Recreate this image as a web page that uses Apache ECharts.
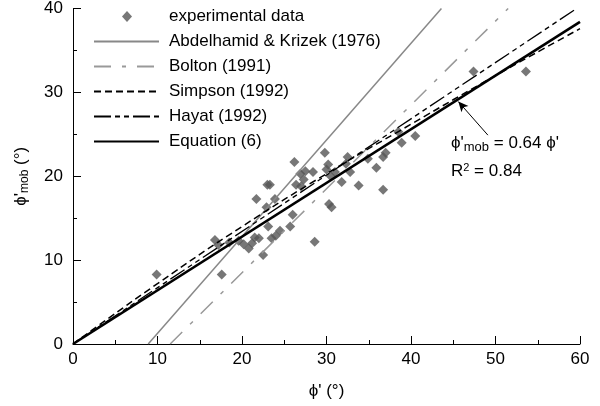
<!DOCTYPE html>
<html>
<head>
<meta charset="utf-8">
<script src="https://cdn.jsdelivr.net/npm/echarts@6/dist/echarts.min.js"></script>
<style>html,body{margin:0;padding:0;background:#fff}#c{width:600px;height:406px}</style>
</head>
<body>
<div id="c"></div>
<script>
// experimental data: friction angle phi' vs mobilised phi'_mob (degrees)
const phi = [9.9,16.8,17.2,17.6,18.5,19.6,20.2,20.8,21.2,21.5,21.7,22.0,22.5,22.9,23.0,23.3,23.1,23.5,23.9,24.0,24.5,25.7,26.0,26.2,26.4,26.9,27.0,27.3,27.5,28.4,28.6,29.8,30.0,30.2,30.3,30.6,30.5,31.0,31.8,32.3,32.5,32.8,33.8,34.9,35.9,36.7,37.0,36.7,38.5,38.9,40.5,47.4,53.6];
const phiMob = [8.3,12.4,11.8,8.3,12.1,12.3,11.9,11.4,12.0,12.7,17.3,12.6,10.6,16.3,19.0,19.0,14.0,12.6,17.3,12.9,13.5,14.0,15.4,21.7,19.0,20.3,18.8,19.6,20.6,20.5,12.2,22.8,20.8,21.4,16.7,16.3,20.0,20.5,19.3,21.5,22.3,20.5,18.9,22.1,21.0,22.3,22.8,18.4,25.3,24.0,24.8,32.5,32.5];
// published relations
const akX = [8.9, 43.6], akY = [0, 40];
const boltonX = [11.5, 51.5], boltonY = [0, 40];
const simpsonX = [0, 10, 20, 30, 40, 50, 60], simpsonY = [0, 7.2, 14.0, 20.3, 26.2, 32.0, 37.6];
const hayatX = [0, 59.6], hayatY = [0, 40];
const eqX = [0, 60], eqY = [0, 38.4];
const xTicks = [0, 10, 20, 30, 40, 50, 60];
const yTicks = [0, 10, 20, 30, 40];
const arrowFrom = [49.1, 24.9], arrowTo = [45.6, 28.9];

const zip = (a, b) => a.map((v, i) => [v, b[i]]);
const FONT = 'Liberation Sans, Arial, Helvetica, sans-serif';
const FS = 17;
const chart = echarts.init(document.getElementById('c'), null, {renderer: 'canvas'});
const axisCommon = {
  axisLine: {show: true, lineStyle: {color: '#000', width: 1}},
  axisTick: {show: true, inside: true, length: 8, lineStyle: {color: '#000'}},
  minorTick: {show: true, splitNumber: 2, length: 4, lineStyle: {color: '#000'}},
  splitLine: {show: false},
  axisLabel: {color: '#000', fontSize: FS, fontFamily: FONT},
  nameTextStyle: {color: '#000', fontSize: FS, fontFamily: FONT}
};
const diamondIcon = 'path://M0,6L0,6M65,6L65,6M33,0.5L38,6L33,11.5L28,6Z';
const hidden = {opacity: 0};
chart.setOption({
  animation: false,
  backgroundColor: '#fff',
  grid: {left: 73, right: 20, top: 8, bottom: 62},
  xAxis: Object.assign({}, axisCommon, {
    type: 'value', min: xTicks[0], max: xTicks[xTicks.length - 1], interval: 10,
    name: "ϕ' (°)", nameLocation: 'middle', nameGap: 39,
    axisLabel: Object.assign({}, axisCommon.axisLabel, {margin: 7})
  }),
  yAxis: Object.assign({}, axisCommon, {
    type: 'value', min: yTicks[0], max: yTicks[yTicks.length - 1], interval: 10,
    name: "ϕ'{s|mob} (°)", nameLocation: 'middle', nameGap: 42,
    nameTextStyle: {color: '#000', fontSize: FS, fontFamily: FONT,
      rich: {s: {fontSize: 12, fontFamily: FONT, color: '#000', padding: [8, 0, 0, 0]}}},
    axisLabel: Object.assign({}, axisCommon.axisLabel, {margin: 10})
  }),
  legend: {
    orient: 'vertical', left: 93, top: 8, padding: 0, itemWidth: 65, itemHeight: 12, itemGap: 8,
    textStyle: {fontSize: FS, fontFamily: FONT, color: '#000', padding: [0, 0, 0, 5]},
    data: [
      {name: 'experimental data', icon: diamondIcon},
      {name: 'Abdelhamid & Krizek (1976)', itemStyle: hidden},
      {name: 'Bolton (1991)', itemStyle: hidden},
      {name: 'Simpson (1992)', itemStyle: hidden},
      {name: 'Hayat (1992)', itemStyle: hidden},
      {name: 'Equation (6)', itemStyle: hidden}
    ]
  },
  series: [
    {name: 'experimental data', type: 'scatter', symbol: 'diamond', symbolSize: 10,
     itemStyle: {color: '#555'}, data: zip(phi, phiMob), z: 2},
    {name: 'Abdelhamid & Krizek (1976)', type: 'line', symbol: 'none', data: zip(akX, akY),
     lineStyle: {color: '#888', width: 1.5}, itemStyle: {color: '#888'}, z: 3},
    {name: 'Bolton (1991)', type: 'line', symbol: 'none', data: zip(boltonX, boltonY),
     lineStyle: {color: '#999', width: 1.5, type: [17, 11, 4, 11]}, itemStyle: {color: '#999'}, z: 3},
    {name: 'Simpson (1992)', type: 'line', symbol: 'none', smooth: true, data: zip(simpsonX, simpsonY),
     lineStyle: {color: '#000', width: 1.5, type: [7, 4]}, itemStyle: {color: '#000'}, z: 4},
    {name: 'Hayat (1992)', type: 'line', symbol: 'none', data: zip(hayatX, hayatY),
     lineStyle: {color: '#000', width: 1.3, type: [17, 4, 5, 4, 5, 4]}, itemStyle: {color: '#000'}, z: 4},
    {name: 'Equation (6)', type: 'line', symbol: 'none', data: zip(eqX, eqY),
     lineStyle: {color: '#000', width: 2.6}, itemStyle: {color: '#000'}, z: 5,
     markLine: {silent: true, symbol: ['none', 'arrow'], symbolSize: [7, 10],
       label: {show: false}, lineStyle: {color: '#000', width: 1, type: 'solid'},
       data: [[{coord: arrowFrom}, {coord: arrowTo}]]}}
  ],
  graphic: [
    {type: 'text', left: 451, top: 135, style: {
      text: "ϕ'{s|mob} = 0.64 ϕ'", font: FS + 'px ' + FONT, fill: '#000',
      rich: {s: {fontSize: 13, fontFamily: FONT, fill: '#000', padding: [7, 0, 0, 0]}}}},
    {type: 'text', left: 451, top: 162, style: {
      text: 'R{p|2} = 0.84', font: FS + 'px ' + FONT, fill: '#000',
      rich: {p: {fontSize: 11, fontFamily: FONT, fill: '#000', padding: [0, 0, 7, 0]}}}}
  ]
});
</script>
</body>
</html>
